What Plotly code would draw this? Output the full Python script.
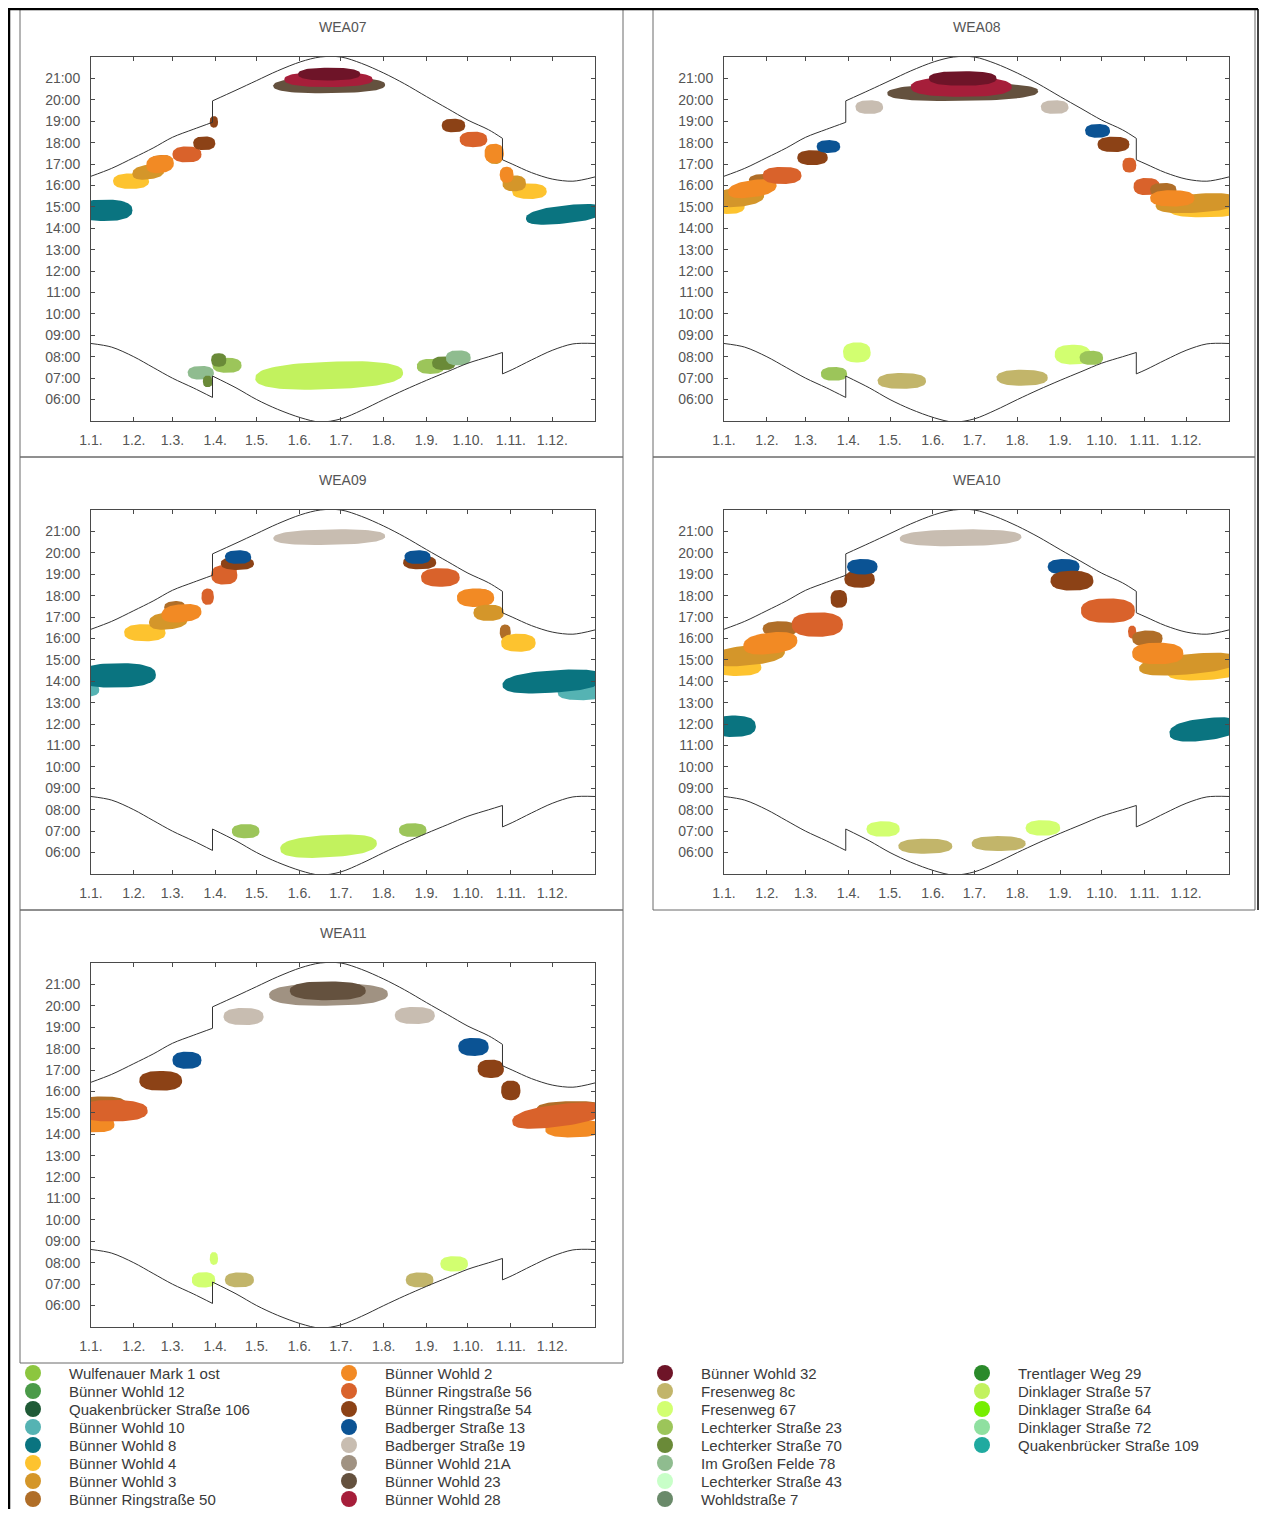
import numpy as np
import plotly.graph_objects as go

# page body has an 8px margin, so the figure is sized to fit inside the window
OFF = 8
FIG_W, FIG_H = 1272 - 2 * OFF, 1517 - 2 * OFF

# ---------------- data ----------------
RECEPTORS = [
    "Wulfenauer Mark 1 ost", "Bünner Wohld 12", "Quakenbrücker Straße 106", "Bünner Wohld 10",
    "Bünner Wohld 8", "Bünner Wohld 4", "Bünner Wohld 3", "Bünner Ringstraße 50",
    "Bünner Wohld 2", "Bünner Ringstraße 56", "Bünner Ringstraße 54", "Badberger Straße 13",
    "Badberger Straße 19", "Bünner Wohld 21A", "Bünner Wohld 23", "Bünner Wohld 28",
    "Bünner Wohld 32", "Fresenweg 8c", "Fresenweg 67", "Lechterker Straße 23",
    "Lechterker Straße 70", "Im Großen Felde 78", "Lechterker Straße 43", "Wohldstraße 7",
    "Trentlager Weg 29", "Dinklager Straße 57", "Dinklager Straße 64", "Dinklager Straße 72",
    "Quakenbrücker Straße 109",
]
RECEPTOR_COLORS = [
    "#8cc63f", "#4a9a48", "#1f5a36", "#55b3b3",
    "#0a7480", "#fdc32f", "#d4962a", "#b06e28",
    "#f28a24", "#d9622b", "#8c4216", "#0b5394",
    "#c8bdb1", "#a09282", "#64513e", "#a61e3a",
    "#6e1428", "#c2b56a", "#d2ff70", "#9cc55a",
    "#6a8a38", "#8fbc8f", "#c8ffc8", "#6a8a6a",
    "#2a8a2a", "#c2f25e", "#76ee00", "#8fe0a0",
    "#20aaa0",
]

MONTH_START_DAYS = [0, 31, 59, 90, 120, 151, 181, 212, 243, 273, 304, 334]
MONTH_LABELS = ["1.1.", "1.2.", "1.3.", "1.4.", "1.5.", "1.6.", "1.7.", "1.8.",
                "1.9.", "1.10.", "1.11.", "1.12."]
HOUR_TICKS = list(range(6, 22))
HOUR_LABELS = ["%02d:00" % h for h in HOUR_TICKS]

# sunset (hours), three segments split by daylight-saving changes
SUNSET_A_DAYS = [0, 15, 31, 45, 59, 74, 88]
SUNSET_A_TIMES = [16.43, 16.8, 17.3, 17.75, 18.25, 18.62, 18.95]
SUNSET_B_DAYS = [88, 105, 120, 135, 152, 166, 181, 196, 212, 227, 243, 258, 273, 288, 298]
SUNSET_B_TIMES = [19.95, 20.45, 20.9, 21.35, 21.78, 22.0, 22.0, 21.7, 21.25, 20.75, 20.15,
                  19.6, 19.05, 18.6, 18.2]
SUNSET_C_DAYS = [298, 305, 319, 334, 349, 365]
SUNSET_C_TIMES = [17.2, 17.0, 16.6, 16.3, 16.2, 16.4]

# sunrise (hours)
SUNRISE_A_DAYS = [0, 15, 31, 45, 59, 74, 88]
SUNRISE_A_TIMES = [8.62, 8.45, 8.0, 7.5, 7.0, 6.55, 6.1]
SUNRISE_B_DAYS = [88, 105, 120, 135, 152, 166, 181, 196, 212, 227, 243, 258, 273, 288, 298]
SUNRISE_B_TIMES = [7.1, 6.55, 6.0, 5.55, 5.15, 4.95, 5.1, 5.5, 6.0, 6.45, 6.9, 7.3, 7.7,
                   8.0, 8.2]
SUNRISE_C_DAYS = [298, 305, 319, 334, 349, 365]
SUNRISE_C_TIMES = [7.2, 7.4, 7.85, 8.3, 8.6, 8.62]

# shadow periods: (receptor, first day, last day, centre time at first day,
#                  centre time at last day, half span in hours)
WEA07_BLOBS = [
    ("Bünner Wohld 8", -10, 30, 14.84, 14.84, 0.5),
    ("Bünner Wohld 8", 315, 372, 14.45, 14.85, 0.42),
    ("Bünner Wohld 4", 16, 42, 16.2, 16.2, 0.36),
    ("Bünner Wohld 3", 30, 53, 16.55, 16.7, 0.34),
    ("Bünner Ringstraße 50", 42, 58, 17.1, 17.2, 0.27),
    ("Bünner Wohld 2", 40, 60, 16.95, 17.05, 0.42),
    ("Bünner Ringstraße 56", 59, 80, 17.45, 17.45, 0.37),
    ("Bünner Ringstraße 54", 74, 90, 17.97, 17.97, 0.32),
    ("Bünner Ringstraße 54", 86, 92, 18.97, 18.97, 0.27),
    ("Bünner Wohld 23", 132, 213, 20.65, 20.7, 0.37),
    ("Bünner Wohld 28", 140, 204, 20.95, 20.95, 0.35),
    ("Bünner Wohld 32", 150, 195, 21.2, 21.2, 0.3),
    ("Bünner Ringstraße 54", 254, 271, 18.8, 18.8, 0.32),
    ("Bünner Ringstraße 56", 267, 287, 18.15, 18.15, 0.36),
    ("Bünner Wohld 3", 287, 298, 17.3, 17.3, 0.3),
    ("Bünner Wohld 2", 285, 299, 17.5, 17.5, 0.45),
    ("Bünner Wohld 4", 305, 330, 15.73, 15.73, 0.36),
    ("Bünner Wohld 3", 298, 315, 16.1, 16.1, 0.37),
    ("Bünner Wohld 2", 296, 306, 16.5, 16.5, 0.37),
    ("Im Großen Felde 78", 70, 89, 7.25, 7.25, 0.32),
    ("Lechterker Straße 70", 81, 88, 6.85, 6.85, 0.27),
    ("Lechterker Straße 23", 88, 109, 7.6, 7.6, 0.35),
    ("Lechterker Straße 70", 87, 98, 7.85, 7.85, 0.32),
    ("Dinklager Straße 57", 119, 226, 7.0, 7.25, 0.64),
    ("Lechterker Straße 23", 236, 256, 7.55, 7.55, 0.35),
    ("Lechterker Straße 70", 247, 264, 7.7, 7.7, 0.32),
    ("Im Großen Felde 78", 257, 275, 7.95, 7.95, 0.35),
]

WEA08_BLOBS = [
    ("Bünner Wohld 4", -8, 15, 15.05, 15.05, 0.38),
    ("Bünner Wohld 3", -8, 29, 15.35, 15.55, 0.44),
    ("Bünner Ringstraße 50", 18, 39, 16.25, 16.3, 0.27),
    ("Bünner Wohld 2", 3, 38, 15.7, 16.0, 0.4),
    ("Bünner Ringstraße 56", 28, 56, 16.47, 16.47, 0.4),
    ("Bünner Ringstraße 54", 53, 75, 17.3, 17.3, 0.35),
    ("Badberger Straße 13", 67, 84, 17.82, 17.82, 0.3),
    ("Badberger Straße 19", 95, 115, 19.66, 19.66, 0.32),
    ("Bünner Wohld 23", 118, 227, 20.3, 20.4, 0.4),
    ("Bünner Wohld 28", 135, 208, 20.6, 20.6, 0.46),
    ("Bünner Wohld 32", 148, 197, 21.0, 21.0, 0.34),
    ("Badberger Straße 19", 229, 249, 19.66, 19.66, 0.32),
    ("Badberger Straße 13", 261, 279, 18.55, 18.55, 0.32),
    ("Bünner Ringstraße 54", 270, 293, 17.92, 17.92, 0.36),
    ("Bünner Ringstraße 56", 288, 298, 16.95, 16.95, 0.35),
    ("Bünner Wohld 4", 322, 372, 14.84, 14.84, 0.33),
    ("Bünner Wohld 3", 312, 372, 15.05, 15.3, 0.44),
    ("Bünner Ringstraße 56", 296, 315, 15.95, 15.95, 0.4),
    ("Bünner Ringstraße 50", 308, 327, 15.8, 15.8, 0.32),
    ("Bünner Wohld 2", 308, 340, 15.4, 15.4, 0.38),
    ("Lechterker Straße 23", 70, 89, 7.2, 7.2, 0.32),
    ("Fresenweg 67", 86, 106, 8.2, 8.2, 0.47),
    ("Fresenweg 8c", 111, 146, 6.87, 6.87, 0.37),
    ("Fresenweg 8c", 197, 234, 7.02, 7.02, 0.37),
    ("Fresenweg 67", 239, 265, 8.1, 8.1, 0.46),
    ("Lechterker Straße 23", 257, 274, 7.95, 7.95, 0.33),
]

WEA09_BLOBS = [
    ("Bünner Wohld 10", -10, 6, 13.6, 13.6, 0.3),
    ("Bünner Wohld 8", -10, 47, 14.25, 14.3, 0.57),
    ("Bünner Wohld 10", 338, 372, 13.45, 13.45, 0.33),
    ("Bünner Wohld 8", 298, 372, 13.83, 14.15, 0.52),
    ("Bünner Wohld 4", 24, 54, 16.27, 16.27, 0.4),
    ("Bünner Wohld 3", 42, 70, 16.75, 16.9, 0.4),
    ("Bünner Ringstraße 50", 53, 68, 17.45, 17.5, 0.27),
    ("Bünner Wohld 2", 51, 80, 17.1, 17.25, 0.42),
    ("Bünner Ringstraße 56", 80, 89, 17.95, 17.95, 0.38),
    ("Bünner Ringstraße 56", 87, 106, 18.97, 18.97, 0.45),
    ("Bünner Ringstraße 54", 94, 118, 19.5, 19.5, 0.3),
    ("Badberger Straße 13", 97, 116, 19.8, 19.8, 0.32),
    ("Badberger Straße 19", 132, 213, 20.68, 20.78, 0.36),
    ("Bünner Ringstraße 54", 226, 250, 19.55, 19.55, 0.32),
    ("Badberger Straße 13", 227, 246, 19.8, 19.8, 0.32),
    ("Bünner Ringstraße 56", 239, 267, 18.85, 18.85, 0.43),
    ("Bünner Ringstraße 50", 270, 290, 18.05, 18.05, 0.27),
    ("Bünner Wohld 2", 265, 292, 17.9, 17.9, 0.43),
    ("Bünner Wohld 3", 277, 299, 17.2, 17.2, 0.38),
    ("Bünner Ringstraße 50", 296, 304, 16.3, 16.3, 0.35),
    ("Bünner Wohld 4", 297, 322, 15.8, 15.8, 0.42),
    ("Lechterker Straße 23", 102, 122, 7.0, 7.0, 0.33),
    ("Dinklager Straße 57", 137, 207, 6.17, 6.43, 0.52),
    ("Lechterker Straße 23", 223, 243, 7.05, 7.05, 0.32),
]

WEA10_BLOBS = [
    ("Bünner Wohld 8", -10, 23, 11.9, 11.9, 0.5),
    ("Bünner Wohld 8", 322, 372, 11.57, 11.93, 0.52),
    ("Bünner Wohld 4", -8, 27, 14.65, 14.65, 0.4),
    ("Bünner Wohld 3", -8, 44, 15.05, 15.38, 0.47),
    ("Bünner Ringstraße 50", 28, 53, 16.45, 16.45, 0.35),
    ("Bünner Wohld 2", 14, 53, 15.65, 15.9, 0.5),
    ("Bünner Ringstraße 56", 49, 86, 16.65, 16.65, 0.57),
    ("Bünner Ringstraße 54", 77, 89, 17.85, 17.85, 0.42),
    ("Bünner Ringstraße 54", 87, 109, 18.77, 18.77, 0.4),
    ("Badberger Straße 13", 89, 111, 19.35, 19.35, 0.36),
    ("Badberger Straße 19", 127, 215, 20.66, 20.74, 0.39),
    ("Badberger Straße 13", 234, 257, 19.35, 19.35, 0.36),
    ("Bünner Ringstraße 54", 236, 267, 18.7, 18.7, 0.46),
    ("Bünner Ringstraße 56", 258, 297, 17.3, 17.3, 0.57),
    ("Bünner Ringstraße 56", 292, 298, 16.3, 16.3, 0.3),
    ("Bünner Wohld 4", 321, 372, 14.35, 14.5, 0.37),
    ("Bünner Wohld 3", 300, 372, 14.6, 15.0, 0.47),
    ("Bünner Ringstraße 50", 295, 317, 16.0, 16.0, 0.37),
    ("Bünner Wohld 2", 295, 332, 15.3, 15.3, 0.5),
    ("Fresenweg 67", 103, 127, 7.1, 7.1, 0.36),
    ("Fresenweg 8c", 126, 165, 6.3, 6.3, 0.35),
    ("Fresenweg 8c", 179, 218, 6.42, 6.42, 0.35),
    ("Fresenweg 67", 218, 243, 7.15, 7.15, 0.36),
]

WEA11_BLOBS = [
    ("Bünner Ringstraße 50", -10, 25, 15.45, 15.45, 0.32),
    ("Bünner Wohld 2", -10, 17, 14.45, 14.45, 0.36),
    ("Bünner Ringstraße 56", -10, 41, 15.1, 15.1, 0.5),
    ("Bünner Ringstraße 54", 35, 66, 16.5, 16.5, 0.46),
    ("Badberger Straße 13", 59, 80, 17.46, 17.46, 0.4),
    ("Badberger Straße 19", 96, 125, 19.5, 19.5, 0.4),
    ("Bünner Wohld 21A", 129, 215, 20.5, 20.55, 0.52),
    ("Bünner Wohld 23", 144, 199, 20.7, 20.7, 0.44),
    ("Badberger Straße 19", 220, 249, 19.55, 19.55, 0.4),
    ("Badberger Straße 13", 266, 288, 18.08, 18.08, 0.42),
    ("Bünner Ringstraße 54", 280, 299, 17.06, 17.06, 0.43),
    ("Bünner Ringstraße 54", 297, 311, 16.05, 16.05, 0.46),
    ("Bünner Ringstraße 50", 323, 372, 15.2, 15.25, 0.32),
    ("Bünner Wohld 2", 329, 372, 14.22, 14.3, 0.4),
    ("Bünner Ringstraße 56", 305, 372, 14.6, 15.15, 0.52),
    ("Fresenweg 67", 86, 92, 8.2, 8.2, 0.3),
    ("Fresenweg 67", 73, 90, 7.2, 7.2, 0.36),
    ("Fresenweg 8c", 97, 118, 7.2, 7.2, 0.35),
    ("Fresenweg 8c", 228, 248, 7.2, 7.2, 0.35),
    ("Fresenweg 67", 253, 273, 7.95, 7.95, 0.36),
]

PANEL_NAMES = ["WEA07", "WEA08", "WEA09", "WEA10", "WEA11"]
PANEL_BLOBS = [WEA07_BLOBS, WEA08_BLOBS, WEA09_BLOBS, WEA10_BLOBS, WEA11_BLOBS]

# ---------------- layout geometry (page pixels) ----------------
PLOT_X = [(91, 595), (724, 1229), (91, 595), (724, 1229), (91, 595)]
PLOT_Y = [(57, 421), (57, 421), (510, 874), (510, 874), (963, 1327)]
BOXES = [(20, 9, 623, 457), (653, 9, 1255, 457), (20, 457, 623, 910),
         (653, 457, 1255, 910), (20, 910, 623, 1363)]
TITLE_Y = [27, 27, 480, 480, 933]

FONT = "Liberation Sans, Arial, sans-serif"
GREY = "#555555"
COLOR_OF = dict(zip(RECEPTORS, RECEPTOR_COLORS))


def fx(p):
    return (p - OFF) / FIG_W


def fy(p):
    return 1 - (p - OFF) / FIG_H


def blob_outline(d0, d1, t0, t1, h, n=80, p=2.5):
    th = np.linspace(0, 2 * np.pi, n)
    c, s = np.cos(th), np.sin(th)
    u = np.sign(c) * np.abs(c) ** (2 / p)
    v = np.sign(s) * np.abs(s) ** (2 / p)
    x = (d0 + d1) / 2 + (d1 - d0) / 2 * u
    yc = t0 + (t1 - t0) * (u + 1) / 2
    return x, yc + h * v


fig = go.Figure()
layout = dict(
    template="none",
    width=FIG_W, height=FIG_H, autosize=False,
    margin=dict(l=0, r=0, t=0, b=0, pad=0, autoexpand=False),
    paper_bgcolor="white", plot_bgcolor="white",
    showlegend=False, font=dict(family=FONT, color=GREY),
)

SEGMENTS = [
    (SUNSET_A_DAYS, SUNSET_A_TIMES), (SUNSET_B_DAYS, SUNSET_B_TIMES), (SUNSET_C_DAYS, SUNSET_C_TIMES),
    (SUNRISE_A_DAYS, SUNRISE_A_TIMES), (SUNRISE_B_DAYS, SUNRISE_B_TIMES), (SUNRISE_C_DAYS, SUNRISE_C_TIMES),
]
JUMPS = [(SEGMENTS[0], SEGMENTS[1]), (SEGMENTS[1], SEGMENTS[2]),
         (SEGMENTS[3], SEGMENTS[4]), (SEGMENTS[4], SEGMENTS[5])]

annotations = []
shapes = []

for k, (name, blobs) in enumerate(zip(PANEL_NAMES, PANEL_BLOBS)):
    idx = "" if k == 0 else str(k + 1)
    xa, ya = "x" + idx, "y" + idx
    for (rec, d0, d1, t0, t1, hh) in blobs:
        bx, by = blob_outline(d0, d1, t0, t1, hh)
        col = COLOR_OF[rec]
        fig.add_trace(go.Scatter(
            x=bx, y=by, mode="lines", fill="toself", fillcolor=col,
            line=dict(width=0, color=col), hoverinfo="skip", name=rec,
            xaxis=xa, yaxis=ya))
    for (days, times) in SEGMENTS:
        fig.add_trace(go.Scatter(
            x=days, y=times, mode="lines",
            line=dict(color="#333333", width=1, shape="spline", smoothing=0.9),
            hoverinfo="skip", xaxis=xa, yaxis=ya))
    for (sa, sb) in JUMPS:
        fig.add_trace(go.Scatter(
            x=[sa[0][-1], sb[0][0]], y=[sa[1][-1], sb[1][0]], mode="lines",
            line=dict(color="#333333", width=1), hoverinfo="skip", xaxis=xa, yaxis=ya))

    common = dict(showline=True, linecolor="#4a4a4a", linewidth=1, mirror="ticks",
                  ticks="inside", ticklen=4, tickcolor="#4a4a4a", showgrid=False,
                  zeroline=False, fixedrange=True, automargin=False,
                  tickfont=dict(family=FONT, size=14, color=GREY))
    layout["xaxis" + idx] = dict(
        common, range=[0, 365], tickmode="array", tickvals=MONTH_START_DAYS,
        ticktext=MONTH_LABELS, domain=[fx(PLOT_X[k][0]), fx(PLOT_X[k][1])],
        anchor=ya, ticklabelstandoff=6)
    layout["yaxis" + idx] = dict(
        common, range=[5, 22], tickmode="array", tickvals=HOUR_TICKS,
        ticktext=HOUR_LABELS, domain=[fy(PLOT_Y[k][1]), fy(PLOT_Y[k][0])],
        anchor=xa, ticklabelstandoff=7)

    annotations.append(dict(
        text=name, xref="paper", yref="paper",
        x=fx((PLOT_X[k][0] + PLOT_X[k][1]) / 2), y=fy(TITLE_Y[k]),
        xanchor="center", yanchor="middle", showarrow=False,
        font=dict(family=FONT, size=14, color=GREY)))

    bx0, by0, bx1, by1 = BOXES[k]
    shapes.append(dict(type="rect", xref="paper", yref="paper",
                       x0=fx(bx0), x1=fx(bx1), y0=fy(by1), y1=fy(by0),
                       line=dict(color="#6a6a6a", width=1), fillcolor="rgba(0,0,0,0)"))

# outer frame lines of the page table
for (x0, y0, x1, y1, wdt) in [(9, 8, 9, 1517, 2.5), (8, 9, 1258, 9, 2.5),
                              (1258, 9, 1258, 910, 1.5)]:
    shapes.append(dict(type="line", xref="paper", yref="paper",
                       x0=fx(x0), x1=fx(x1), y0=fy(y0), y1=fy(y1),
                       line=dict(color="black", width=wdt)))

# ---------------- legend (manual, 4 columns x 8 rows) ----------------
LEG_COL_X = [33, 349, 665, 982]
LEG_ROW0, LEG_ROW_STEP, LEG_TEXT_GAP = 1373, 18.0, 34
layout["xaxis6"] = dict(domain=[0, 1], range=[OFF, OFF + FIG_W], visible=False,
                        fixedrange=True, anchor="y6", automargin=False)
layout["yaxis6"] = dict(domain=[0, fy(1364)], range=[OFF + FIG_H, 1364], visible=False,
                        fixedrange=True, anchor="x6", automargin=False)
lx, ly = [], []
for i, rec in enumerate(RECEPTORS):
    col, row = i // 8, i % 8
    lx.append(LEG_COL_X[col])
    ly.append(LEG_ROW0 + row * LEG_ROW_STEP)
    annotations.append(dict(
        text=rec, xref="x6", yref="y6", x=LEG_COL_X[col] + LEG_TEXT_GAP,
        y=LEG_ROW0 + row * LEG_ROW_STEP, xanchor="left", yanchor="middle",
        showarrow=False, font=dict(family=FONT, size=15, color="#3a3a3a")))
fig.add_trace(go.Scatter(
    x=lx, y=ly, mode="markers", xaxis="x6", yaxis="y6", hoverinfo="skip",
    marker=dict(symbol="circle", size=16, color=RECEPTOR_COLORS, line=dict(width=0))))

layout["annotations"] = annotations
layout["shapes"] = shapes
fig.update_layout(**layout)
fig.write_html("out.html")
